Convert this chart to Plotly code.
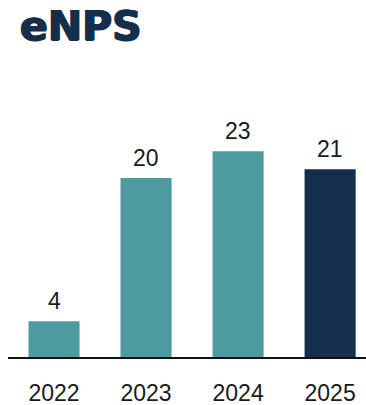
import plotly.graph_objects as go

# eNPS score by year
years = ["2022", "2023", "2024", "2025"]
scores = [4, 20, 23, 21]
bar_colors = ["#4E9AA1", "#4E9AA1", "#4E9AA1", "#142E4C"]

fig = go.Figure(
    go.Bar(
        x=years,
        y=scores,
        marker=dict(color=bar_colors, line=dict(width=0)),
        width=0.555,
        hoverinfo="skip",
    )
)

# value labels above each bar (category index positions)
for i, val in enumerate(scores):
    fig.add_annotation(
        x=i, y=val, xref="x", yref="y", text=str(val), showarrow=False,
        yanchor="bottom", yshift=5,
        font=dict(family="Liberation Sans, Arial, sans-serif", size=23, color="#1a1a1a"),
    )

title_color = "#142E4C"
fig.update_layout(
    width=366,
    height=405,
    margin=dict(l=8, r=0, t=60, b=48, autoexpand=False),
    paper_bgcolor="white",
    plot_bgcolor="white",
    showlegend=False,
    title=dict(
        text="eNPS",
        x=20 / 366, xref="container", xanchor="left",
        y=1 - 26 / 405, yref="container", yanchor="middle",
        font=dict(
            family="DejaVu Sans, sans-serif", size=41, color=title_color, weight="bold",
            shadow=f"0.9px 0 0 {title_color}, -0.9px 0 0 {title_color}, 0 0.6px 0 {title_color}",
        ),
    ),
    xaxis=dict(
        type="category",
        range=[-0.5, 3.39],
        showline=True, linecolor="#111111", linewidth=1.5,
        showgrid=False, zeroline=False, ticks="",
        automargin=False,
        ticklabelstandoff=15,
        tickfont=dict(family="Liberation Sans, Arial, sans-serif", size=23, color="#1a1a1a"),
    ),
    yaxis=dict(
        range=[0, 33.2], visible=False, showgrid=False, zeroline=False,
        automargin=False,
    ),
)

fig.write_html("out.html")
